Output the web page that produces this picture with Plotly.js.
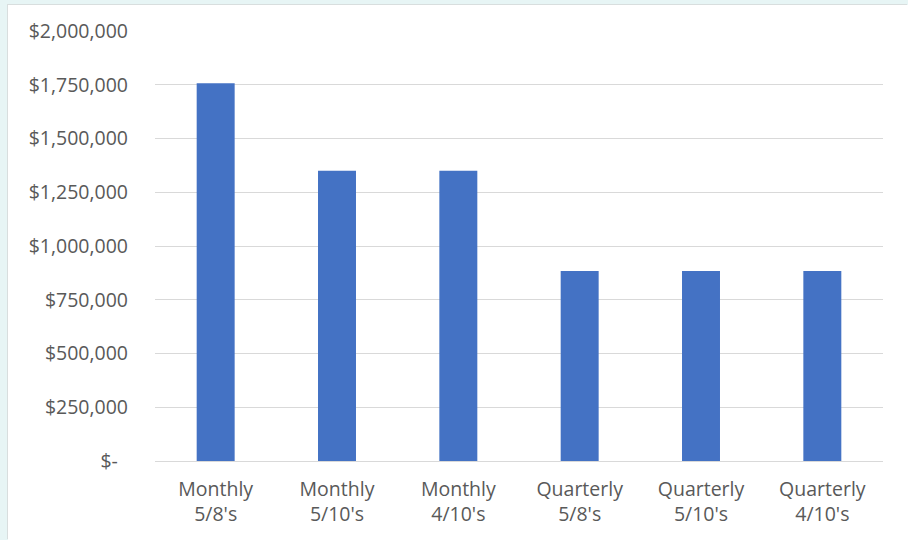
<!DOCTYPE html>
<html>
<head>
<meta charset="utf-8">
<script src="https://cdn.plot.ly/plotly-3.0.1.min.js"></script>
<style>
  html, body { margin: 0; padding: 0; background: #e7f5f5; width: 908px; height: 540px; overflow: hidden; }
  #chart { position: absolute; left: 8px; top: 5px; width: 900px; height: 535px; background: #ffffff; box-shadow: -1px -1px 0 #d8dede; }
</style>
</head>
<body>
<div id="chart"></div>
<script>
const categories = ["Monthly<br>5/8's", "Monthly<br>5/10's", "Monthly<br>4/10's", "Quarterly<br>5/8's", "Quarterly<br>5/10's", "Quarterly<br>4/10's"];
const values = [1757000, 1350000, 1350000, 884000, 884000, 884000];
const yTickVals = [0, 250000, 500000, 750000, 1000000, 1250000, 1500000, 1750000, 2000000];
const yTickText = ["$-\u00a0\u00a0", "$250,000", "$500,000", "$750,000", "$1,000,000", "$1,250,000", "$1,500,000", "$1,750,000", "$2,000,000"];

const trace = {
  type: 'bar',
  x: categories,
  y: values,
  marker: { color: '#4472c4' },
  hoverinfo: 'none'
};

const layout = {
  width: 900,
  height: 535,
  margin: { l: 147, r: 25, t: 26, b: 79 },
  paper_bgcolor: '#ffffff',
  plot_bgcolor: '#ffffff',
  bargap: 0.687,
  showlegend: false,
  font: { family: 'Open Sans, sans-serif', color: '#595959' },
  xaxis: {
    type: 'category',
    showgrid: false,
    showline: false,
    ticks: '',
    tickfont: { size: 19.5, color: '#595959' },
    ticklabelstandoff: 14
  },
  yaxis: {
    range: [0, 2000000],
    tickvals: yTickVals,
    ticktext: yTickText,
    showgrid: true,
    gridcolor: '#d9d9d9',
    gridwidth: 1,
    zeroline: true,
    zerolinecolor: '#d9d9d9',
    zerolinewidth: 1,
    showline: false,
    ticks: '',
    tickfont: { size: 19.5, color: '#595959' },
    ticklabelstandoff: 26
  }
};

Plotly.newPlot('chart', [trace], layout, { displayModeBar: false, staticPlot: true });
</script>
</body>
</html>
